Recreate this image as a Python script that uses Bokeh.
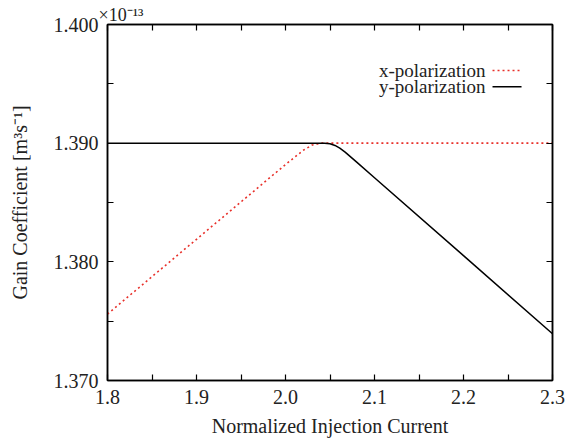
from bokeh.plotting import figure
from bokeh.models import (FixedTicker, LinearAxis, Label, Range1d, NumeralTickFormatter,
                          Arrow, CustomJSTickFormatter)
from bokeh.embed import file_html
from bokeh.resources import INLINE

# data (gain coefficient in units of 1e-13 m^3 s^-1)
x_pol_x = [1.80, 1.90, 2.00, 2.02, 2.03, 2.04, 2.10, 2.20, 2.30]
x_pol_y = [1.3756, 1.3819, 1.3882, 1.3894, 1.38985, 1.3900, 1.3900, 1.3900, 1.3900]
y_pol_x = [1.80, 1.90, 2.00, 2.044, 2.050, 2.0556, 2.061, 2.067, 2.08, 2.10, 2.20, 2.30]
y_pol_y = [1.3900, 1.3900, 1.3900, 1.3900, 1.38995, 1.38981, 1.38958, 1.38925, 1.3884, 1.38709, 1.38052, 1.37394]

x_major = [1.8, 1.9, 2.0, 2.1, 2.2, 2.3]
x_minor = [1.85, 1.95, 2.05, 2.15, 2.25]
y_major = [1.370, 1.380, 1.390, 1.400]
y_minor = [1.375, 1.385, 1.395]
exponent_text = "\u00d710\u207b\u00b9\u00b3"

FONT = "Liberation Serif"

p = figure(width=573, height=443, output_backend="svg", toolbar_location=None,
           x_range=Range1d(1.8, 2.3), y_range=Range1d(1.370, 1.400),
           min_border_left=107, min_border_right=21, min_border_top=24, min_border_bottom=63)
p.grid.visible = False
p.background_fill_color = "white"
p.outline_line_color = "black"
p.outline_line_width = 1.5

p.title.text = exponent_text
p.title.align = "left"
p.title.offset = -9
p.title.standoff = 0
p.title.text_font = FONT
p.title.text_font_size = "18px"
p.title.text_font_style = "normal"
p.title.text_color = "#222222"

p.line(x_pol_x, x_pol_y, line_color="#e8302a", line_width=1.6, line_dash="2 3")
p.line(y_pol_x, y_pol_y, line_color="black", line_width=1.5)

def style(ax, size="20px"):
    ax.axis_line_width = 1.5
    ax.major_tick_in = 6
    ax.major_tick_out = 0
    ax.minor_tick_in = 6
    ax.minor_tick_out = 0
    ax.major_tick_line_width = 1.2
    ax.minor_tick_line_width = 1.2
    ax.major_label_text_font = FONT
    ax.major_label_text_font_size = size
    ax.major_label_text_color = "#222222"
    ax.axis_label_text_font = FONT
    ax.axis_label_text_font_size = "20px"
    ax.axis_label_text_font_style = "normal"
    ax.axis_label_text_color = "#222222"

p.xaxis.ticker = FixedTicker(ticks=x_major, minor_ticks=x_minor)
p.yaxis.ticker = FixedTicker(ticks=y_major, minor_ticks=y_minor)
p.xaxis.formatter = NumeralTickFormatter(format="0.0")
p.yaxis.formatter = NumeralTickFormatter(format="0.000")
p.xaxis.axis_label = "Normalized Injection Current"
p.yaxis.axis_label = "Gain Coefficient [m\u00b3s\u207b\u00b9]"
p.xaxis.major_label_standoff = 9
p.yaxis.major_label_standoff = 9
p.xaxis.axis_label_standoff = 8
p.yaxis.axis_label_standoff = 20
style(p.xaxis[0])
style(p.yaxis[0])

empty = CustomJSTickFormatter(code="return ''")
top = LinearAxis(ticker=FixedTicker(ticks=x_major, minor_ticks=x_minor), formatter=empty)
right = LinearAxis(ticker=FixedTicker(ticks=y_major, minor_ticks=y_minor), formatter=empty)
style(top, "2px")
style(right, "8px")
top.major_label_standoff = 0
right.major_label_standoff = 0
p.add_layout(top, "above")
p.add_layout(right, "right")

# legend (label left of sample)
leg_text_x = 2.2247
leg_line = (2.2326, 2.2652)
leg_y = [1.39612, 1.39475]
for lbl, yy, col, dash in [("x-polarization", leg_y[0], "#e8302a", "2 3"),
                           ("y-polarization", leg_y[1], "black", "solid")]:
    p.add_layout(Label(x=leg_text_x, y=yy, text=lbl, text_font=FONT, text_font_size="19px",
                       text_align="right", text_baseline="middle", text_color="#222222"))
    p.add_layout(Arrow(x_start=leg_line[0], y_start=yy, x_end=leg_line[1], y_end=yy,
                       start=None, end=None, line_color=col, line_width=1.5, line_dash=dash))

open("out.html", "w").write(file_html(p, INLINE))
